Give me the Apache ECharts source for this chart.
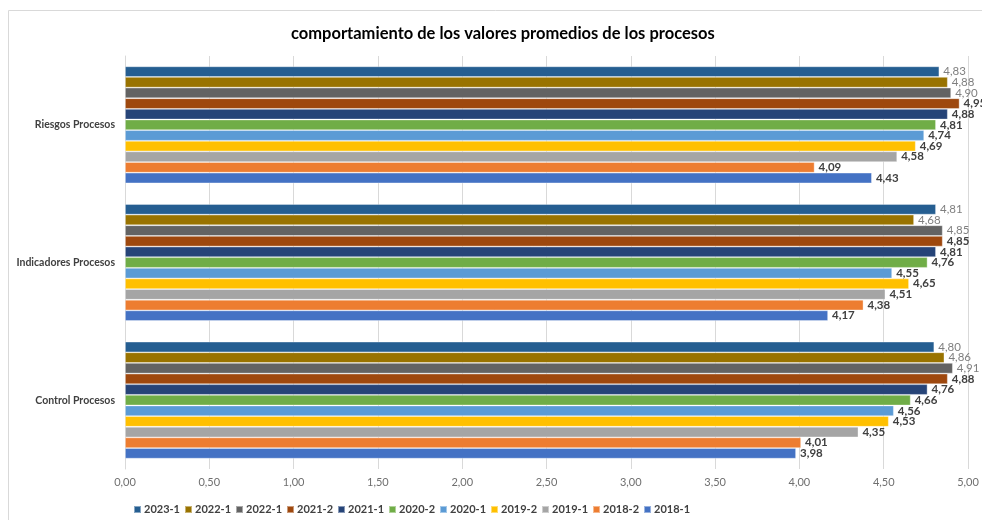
<!DOCTYPE html>
<html><head><meta charset="utf-8">
<script src="https://cdn.jsdelivr.net/npm/echarts@6/dist/echarts.min.js"></script>
<style>html,body{margin:0;padding:0;background:#fff}#c{width:982px;height:520px}</style>
</head><body><div id="c"></div>
<script>
// Categories listed bottom to top
var categories = ['Control Procesos', 'Indicadores Procesos', 'Riesgos Procesos'];
// Series (legend order, top bar first)
var seriesNames = ['2023-1', '2022-1', '2022-1', '2021-2', '2021-1', '2020-2', '2020-1', '2019-2', '2019-1', '2018-2', '2018-1'];
var seriesColors = ['#255E91', '#997300', '#636363', '#9E480E', '#264478', '#70AD47', '#5B9BD5', '#FFC000', '#A5A5A5', '#ED7D31', '#4472C4'];
// values per series: [Control, Indicadores, Riesgos]
var v2023_1 = [4.80, 4.81, 4.83];
var v2022_1a = [4.86, 4.68, 4.88];
var v2022_1b = [4.91, 4.85, 4.90];
var v2021_2 = [4.88, 4.85, 4.95];
var v2021_1 = [4.76, 4.81, 4.88];
var v2020_2 = [4.66, 4.76, 4.81];
var v2020_1 = [4.56, 4.55, 4.74];
var v2019_2 = [4.53, 4.65, 4.69];
var v2019_1 = [4.35, 4.51, 4.58];
var v2018_2 = [4.01, 4.38, 4.09];
var v2018_1 = [3.98, 4.17, 4.43];
var seriesValues = [v2023_1, v2022_1a, v2022_1b, v2021_2, v2021_1, v2020_2, v2020_1, v2019_2, v2019_1, v2018_2, v2018_1];
var xTicks = { min: 0, max: 5, interval: 0.5 };
var title = 'comportamiento de los valores promedios de los procesos';

function fmt(v) { return v.toFixed(2).replace('.', ','); }

// make duplicate names unique for legend (invisible suffix)
var seen = {};
var uniqueNames = seriesNames.map(function (n) {
  var k = n;
  while (seen[k]) k += '\u200B';
  seen[k] = true;
  return k;
});

var series = [];
for (var i = 0; i < seriesNames.length; i++) {
  var light = i < 3;
  series.push({
    name: uniqueNames[i],
    type: 'bar',
    data: seriesValues[i],
    barGap: '0%',
    barCategoryGap: '15%',
    itemStyle: { color: seriesColors[i], borderColor: 'rgba(255,255,255,0.45)', borderWidth: 0.8 },
    label: {
      show: true, position: 'right', distance: 4,
      formatter: function (p) { return fmt(p.value); },
      color: light ? '#7f7f7f' : '#404040',
      fontWeight: light ? 'normal' : 'bold',
      fontSize: 11.5, fontFamily: 'Lato'
    }
  });
}

var chart = echarts.init(document.getElementById('c'));
chart.setOption({
  animation: false,
  color: seriesColors,
  graphic: [{ type: 'rect', shape: { x: 8.5, y: 10.5, width: 1000, height: 520 }, style: { fill: 'none', stroke: '#d9d9d9', lineWidth: 1 }, silent: true }],
  title: { text: title, left: 286, top: 20, textStyle: { fontFamily: 'Lato', fontSize: 16.5, fontWeight: 'bold', color: '#000' } },
  grid: { left: 125, right: 14, top: 56, bottom: 51, containLabel: false },
  legend: {
    data: uniqueNames, bottom: 0, left: 128, itemWidth: 7, itemHeight: 7, itemGap: 4, icon: 'rect',
    textStyle: { fontFamily: 'Lato', fontSize: 11, fontWeight: 'bold', color: '#404040', padding: [0, 0, 0, -2] }
  },
  xAxis: {
    type: 'value', min: xTicks.min, max: xTicks.max, interval: xTicks.interval,
    axisLine: { show: false }, axisTick: { show: false },
    splitLine: { lineStyle: { color: '#d9d9d9', width: 1 } },
    axisLabel: { formatter: function (v) { return fmt(v); }, color: '#6f6f6f', fontSize: 11, fontFamily: 'Lato', margin: 8 }
  },
  yAxis: {
    type: 'category', data: categories,
    axisLine: { show: true, lineStyle: { color: '#d9d9d9' } }, axisTick: { show: false },
    axisLabel: { color: '#404040', fontSize: 10.5, fontWeight: 'bold', fontFamily: 'Lato', margin: 10 }
  },
  series: series
});
</script></body></html>
